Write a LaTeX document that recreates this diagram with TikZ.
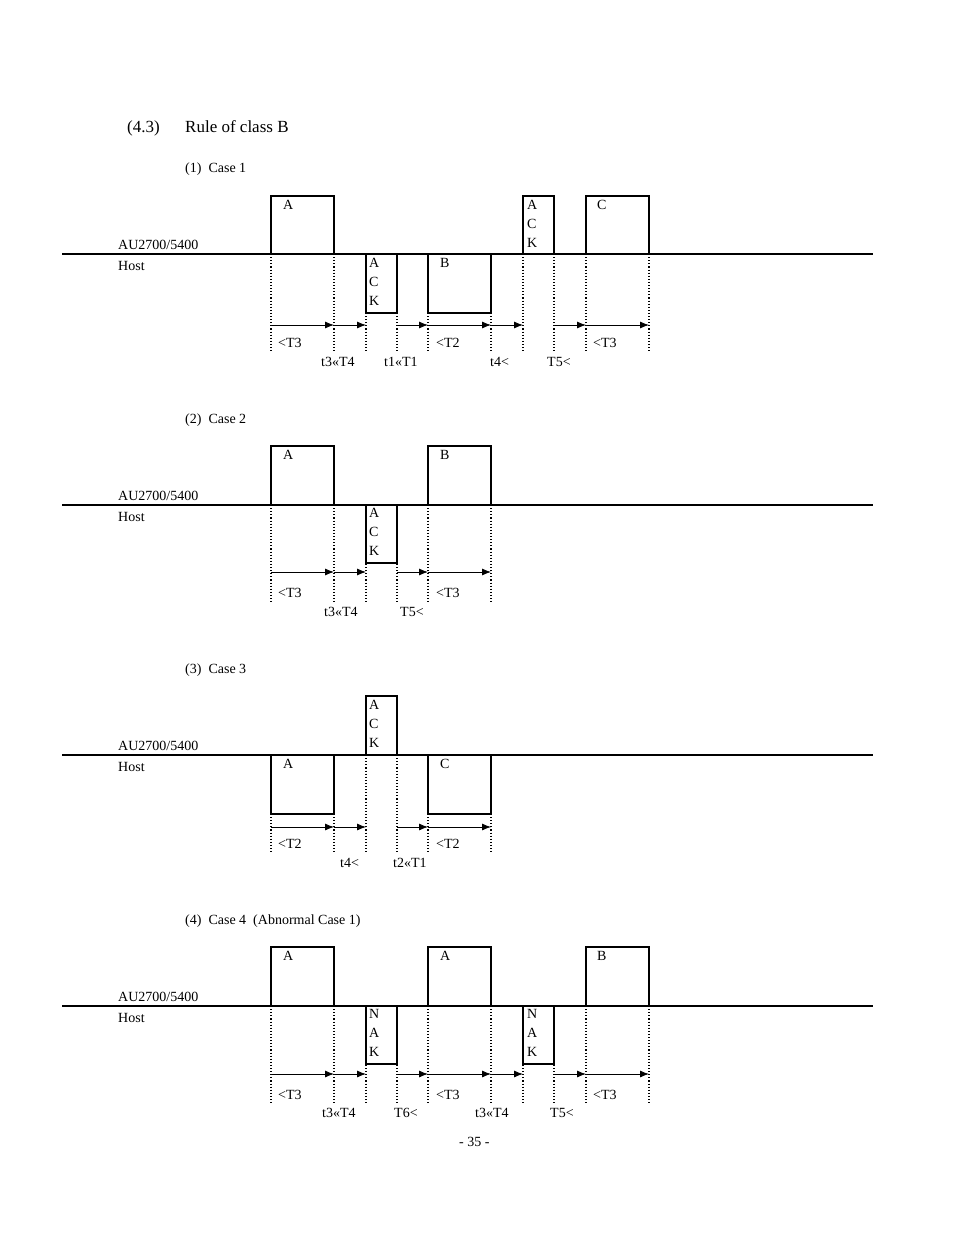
\documentclass[tikz,border=0pt]{standalone}
\usepackage{fontspec}
\setmainfont{Liberation Serif}
\usetikzlibrary{arrows.meta}

% one pulse: x1, x2, top y, label
\newcommand{\pulsebox}[5]{%
  \draw[sig] (#1,#5) -- (#1,#3) -- (#2,#3) -- (#2,#5);
  \node[lbl] (#4) at (#1+8,#3+4) {};}

\begin{document}
\begin{tikzpicture}[x=1pt,y=-1pt,
    sig/.style ={line width=1.6pt},
    guide/.style ={dotted, line width=1.1pt},
    tim/.style ={-{Latex[length=9pt,width=7pt]}, line width=0.8pt},
    lbl/.style ={anchor=north west, inner sep=0pt, align=left,
                 font=\fontsize{14}{19}\selectfont},
    small/.style ={anchor=base west, inner sep=0pt, font=\fontsize{14}{16}\selectfont}]
  \useasboundingbox (0,0) rectangle (954,1235);

  \node[anchor=base west, inner sep=0pt, font=\fontsize{17}{20}\selectfont] (sec) at (127,132) {(4.3)};
  \node[anchor=base west, inner sep=0pt, font=\fontsize{17}{20}\selectfont] (title) at (185,132) {Rule of class B};
  \node[small] (page) at (459,1146) {- 35 -};

  % case headers, station labels, base lines
  \foreach \b/\name [count=\i] in {254/Case 1,505/Case 2,755/Case 3,1006/Case 4} {
    \node[small] (hd\i) at (185,\b-82) {(\i)~~\name\ifnum\i=4~~(Abnormal Case 1)\fi};
    \node[small] (au\i) at (118,\b-5) {AU2700/5400};
    \node[small] (ho\i) at (118,\b+16) {Host};
    \coordinate (l\i) at (62,\b);
    \coordinate (r\i) at (873,\b);
    \draw[line width=1.4pt] (l\i) -- (r\i);
  }

  % Case 1
  \foreach \x in {271,334,366,397,428,491,523,554,586,649}
    \draw[guide] (\x,254) -- (\x,352);
  \draw[sig] (271,254) -- (271,196) -- (334,196) -- (334,254);
  \draw[sig] (366,254) -- (366,313) -- (397,313) -- (397,254);
  \draw[sig] (428,254) -- (428,313) -- (491,313) -- (491,254);
  \draw[sig] (523,254) -- (523,196) -- (554,196) -- (554,254);
  \draw[sig] (586,254) -- (586,196) -- (649,196) -- (649,254);
  \node[lbl] (a1) at (283,200) {A};
  \node[lbl] (k1) at (369,258) {A\\C\\K};
  \node[lbl] (b1) at (440,258) {B};
  \node[lbl] (k2) at (527,200) {A\\C\\K};
  \node[lbl] (c1) at (597,200) {C};
  \foreach \s/\e [count=\j] in {271/334,334/366,397/428,428/491,491/523,554/586,586/649} {
    \coordinate (p\j) at (\s,325); \coordinate (q\j) at (\e,325);
    \draw[tim] (p\j) -- (q\j);
  }
  \node[small] (u1) at (278,347) {<T3};
  \node[small] (u2) at (321,366) {t3<<T4};
  \node[small] (u3) at (384,366) {t1<<T1};
  \node[small] (u4) at (436,347) {<T2};
  \node[small] (u5) at (490,366) {t4<};
  \node[small] (u6) at (547,366) {T5<};
  \node[small] (u7) at (593,347) {<T3};

  % Case 2
  \foreach \x in {271,334,366,397,428,491}
    \draw[guide] (\x,505) -- (\x,602);
  \draw[sig] (271,505) -- (271,446) -- (334,446) -- (334,505);
  \draw[sig] (366,505) -- (366,563) -- (397,563) -- (397,505);
  \draw[sig] (428,505) -- (428,446) -- (491,446) -- (491,505);
  \node[lbl] (a2) at (283,450) {A};
  \node[lbl] (k3) at (369,508) {A\\C\\K};
  \node[lbl] (b2) at (440,450) {B};
  \foreach \s/\e [count=\j] in {271/334,334/366,397/428,428/491} {
    \coordinate (pb\j) at (\s,572); \coordinate (qb\j) at (\e,572);
    \draw[tim] (pb\j) -- (qb\j);
  }
  \node[small] (v1) at (278,597) {<T3};
  \node[small] (v2) at (324,616) {t3<<T4};
  \node[small] (v3) at (400,616) {T5<};
  \node[small] (v4) at (436,597) {<T3};

  % Case 3
  \foreach \x in {271,334,366,397,428,491}
    \draw[guide] (\x,755) -- (\x,852);
  \draw[sig] (271,755) -- (271,814) -- (334,814) -- (334,755);
  \draw[sig] (366,755) -- (366,696) -- (397,696) -- (397,755);
  \draw[sig] (428,755) -- (428,814) -- (491,814) -- (491,755);
  \node[lbl] (a3) at (283,759) {A};
  \node[lbl] (k4) at (369,700) {A\\C\\K};
  \node[lbl] (c2) at (440,759) {C};
  \foreach \s/\e [count=\j] in {271/334,334/366,397/428,428/491} {
    \coordinate (pc\j) at (\s,827); \coordinate (qc\j) at (\e,827);
    \draw[tim] (pc\j) -- (qc\j);
  }
  \node[small] (w1) at (278,848) {<T2};
  \node[small] (w2) at (340,867) {t4<};
  \node[small] (w3) at (393,867) {t2<<T1};
  \node[small] (w4) at (436,848) {<T2};

  % Case 4
  \foreach \x in {271,334,366,397,428,491,523,554,586,649}
    \draw[guide] (\x,1006) -- (\x,1103);
  \draw[sig] (271,1006) -- (271,947) -- (334,947) -- (334,1006);
  \draw[sig] (366,1006) -- (366,1064) -- (397,1064) -- (397,1006);
  \draw[sig] (428,1006) -- (428,947) -- (491,947) -- (491,1006);
  \draw[sig] (523,1006) -- (523,1064) -- (554,1064) -- (554,1006);
  \draw[sig] (586,1006) -- (586,947) -- (649,947) -- (649,1006);
  \node[lbl] (a4) at (283,951) {A};
  \node[lbl] (n1) at (369,1009) {N\\A\\K};
  \node[lbl] (a5) at (440,951) {A};
  \node[lbl] (n2) at (527,1009) {N\\A\\K};
  \node[lbl] (b3) at (597,951) {B};
  \foreach \s/\e [count=\j] in {271/334,334/366,397/428,428/491,491/523,554/586,586/649} {
    \coordinate (pd\j) at (\s,1074); \coordinate (qd\j) at (\e,1074);
    \draw[tim] (pd\j) -- (qd\j);
  }
  \node[small] (z1) at (278,1099) {<T3};
  \node[small] (z2) at (322,1117) {t3<<T4};
  \node[small] (z3) at (394,1117) {T6<};
  \node[small] (z4) at (436,1099) {<T3};
  \node[small] (z5) at (475,1117) {t3<<T4};
  \node[small] (z6) at (550,1117) {T5<};
  \node[small] (z7) at (593,1099) {<T3};
\end{tikzpicture}
\end{document}
